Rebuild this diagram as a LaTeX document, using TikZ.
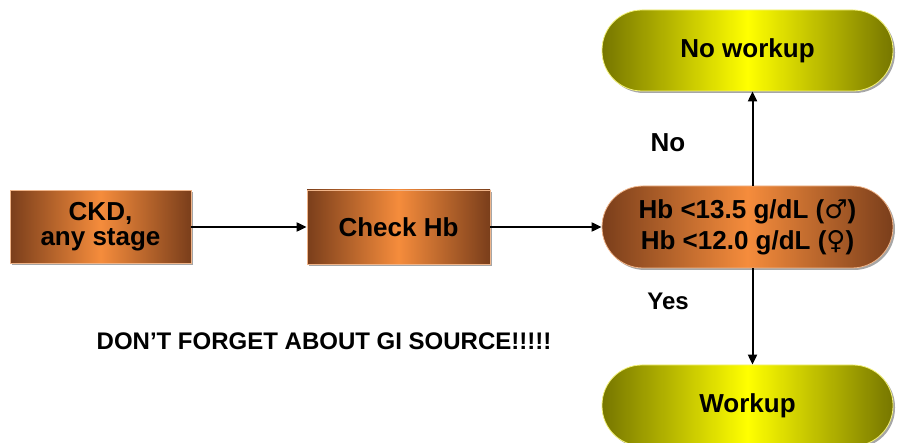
\documentclass[tikz,border=0pt]{standalone}
\usepackage{fontspec}
\setmainfont{Liberation Sans}
\newfontfamily\symfont{DejaVu Sans}
\usetikzlibrary{arrows.meta,shadows}
\definecolor{ordark}{HTML}{7A3E1B}
\definecolor{ormid}{HTML}{F58C3C}
\definecolor{orline}{HTML}{F0B58A}
\definecolor{yldark}{HTML}{767600}
\definecolor{ylmid}{HTML}{FFFF00}
\definecolor{ylline}{HTML}{F4F27A}
\begin{document}
\begin{tikzpicture}[x=1pt,y=-1pt,
  txt/.style={font=\fontsize{26}{25}\selectfont\bfseries, text=black, align=center, inner sep=0pt},
  orbox/.style={txt, left color=ordark, right color=ordark, middle color=ormid,
    draw=orline, line width=0.8pt,
    drop shadow={shadow xshift=2pt, shadow yshift=-2pt, fill=black, opacity=0.35}},
  ylbox/.style={txt, left color=yldark, right color=yldark, middle color=ylmid,
    draw=ylline, line width=0.8pt, minimum width=291pt, minimum height=81pt,
    rounded corners=40pt,
    drop shadow={shadow xshift=2pt, shadow yshift=-2pt, fill=black, opacity=0.35}},
  arr/.style={line width=2pt, draw=black, -{Triangle[length=10pt,width=9pt]}},
  lbl/.style={font=\fontsize{24}{26}\selectfont\bfseries, inner sep=0pt}
]
\clip (0,0) rectangle (900,443);
\useasboundingbox (0,0) rectangle (900,443);

\node[orbox, minimum width=181pt, minimum height=73pt] (ckd) at (100.5,227) {CKD,\\any stage};
\node[orbox, minimum width=183pt, minimum height=74pt] (chk) at (398.5,227) {Check Hb};
\node[orbox, minimum width=291pt, minimum height=82pt, rounded corners=41pt,
      font=\fontsize{26}{31}\selectfont\bfseries] (hb) at (747.5,227)
  {Hb <13.5 g/dL ({\symfont ♂})\\Hb <12.0 g/dL ({\symfont ♀})};
\node[ylbox] (nw) at (747.5,50.5) {No workup};
\node[ylbox] (wk) at (747.5,405.5) {Workup};

\coordinate (vx) at (752.5,0);
\draw[arr] (ckd.east) -- (chk.west);
\draw[arr] (chk.east) -- (hb.west);
\draw[arr] (hb.north -| vx) -- (nw.south -| vx);
\draw[arr] (hb.south -| vx) -- (wk.north -| vx);

\node[lbl, font=\fontsize{26}{28}\selectfont\bfseries] (no) at (668,143) {No};
\node[lbl] (yes) at (668,301) {Yes};
\node[lbl] (gi) at (324,341) {DON’T FORGET ABOUT GI SOURCE!!!!!};
\end{tikzpicture}
\end{document}
